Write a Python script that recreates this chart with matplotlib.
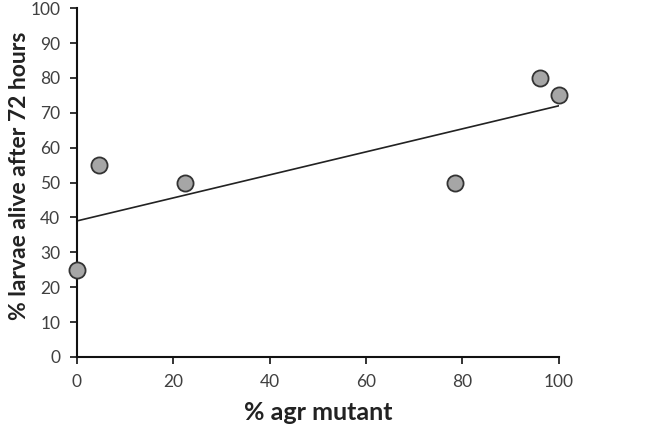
import matplotlib
matplotlib.use("Agg")
import matplotlib.pyplot as plt
import numpy as np

x_vals = [0, 4.5, 22.5, 78.5, 96, 100]
y_vals = [25, 55, 50, 50, 80, 75]
trend_x = [0, 100]
trend_y = [39, 72]
x_ticks = [0, 20, 40, 60, 80, 100]
y_ticks = [0, 10, 20, 30, 40, 50, 60, 70, 80, 90, 100]

plt.rcParams['font.family'] = ['Lato', 'DejaVu Sans']
fig = plt.figure(figsize=(6.66, 4.28), dpi=100)
ax = fig.add_axes([0.1156, 0.166, 0.7234, 0.815])
ax.plot(trend_x, trend_y, color='#222222', lw=1.2, zorder=2)
ax.scatter(x_vals, y_vals, s=135, facecolor='#a6a6a6', edgecolor='#333333', linewidth=1.3, zorder=3, clip_on=False)
ax.set_xlim(0, 100)
ax.set_ylim(0, 100)
ax.set_xticks(x_ticks)
ax.set_yticks(y_ticks)
for s in ['top', 'right']:
    ax.spines[s].set_visible(False)
for s in ['left', 'bottom']:
    ax.spines[s].set_linewidth(1.5)
    ax.spines[s].set_color('#111111')
ax.tick_params(direction='out', length=5, width=1.2, labelsize=12.5, colors='#111111', labelcolor='#404040', pad=7)
ax.set_xlabel('% agr mutant', fontsize=18, fontweight='bold', color='#222222')
ax.set_ylabel('% larvae alive after 72 hours', fontsize=16.5, fontweight='bold', color='#222222')
ax.xaxis.set_label_coords(0.5, -0.125)
ax.yaxis.set_label_coords(-0.097, 0.52)
fig.savefig('out.png', dpi=100)
